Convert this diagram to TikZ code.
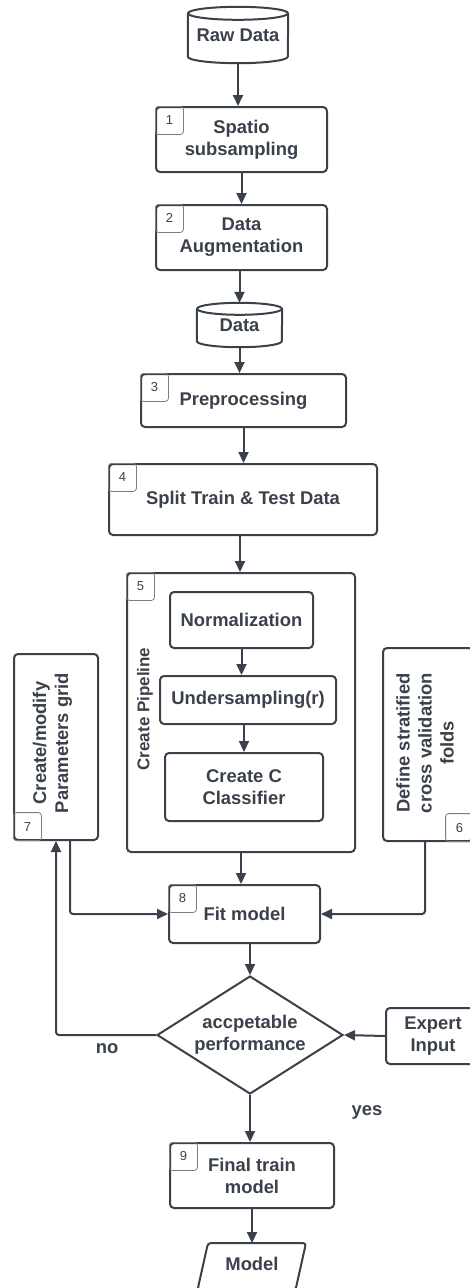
\documentclass[tikz,border=0pt]{standalone}
\usepackage{fontspec}
\setmainfont{Liberation Sans}
\usetikzlibrary{arrows.meta,shapes.geometric,calc}
\definecolor{ink}{HTML}{3A414A}
\definecolor{taggray}{HTML}{7A7F86}
\tikzset{
  base/.style={font=\fontsize{18.4}{22}\selectfont\bfseries, text=ink, align=center},
  stepbox/.style={base, draw=ink, line width=2pt, rounded corners=4pt, inner sep=0pt},
  tag/.style={draw=taggray, line width=0.8pt, rounded corners=3pt, minimum width=28pt,
    minimum height=28pt, inner sep=0pt, font=\fontsize{13}{15}\selectfont, text=ink},
  link/.style={draw=ink, line width=2pt, rounded corners=3pt},
  arr/.style={link, -{Triangle[length=11pt,width=10pt]}},
  outline/.style={draw=ink, line width=2pt, line join=round},
}
\begin{document}
\begin{tikzpicture}[x=1pt,y=-1pt]
\useasboundingbox (0,0) rectangle (470,1288);
\clip (0,0) rectangle (470,1288);

% raw data store
\node[base, minimum width=100pt, minimum height=56pt, inner sep=0pt] (raw) at (238,35) {\raisebox{-4pt}{Raw Data}};
\draw[outline] ($(raw.north west)+(0,6.5)$) -- ($(raw.south west)+(0,-6.5)$)
  arc[start angle=180,end angle=360,x radius=50pt,y radius=6.5pt] -- ($(raw.north east)+(0,6.5)$);
\draw[outline] ($(raw.north)+(0,6.5)$) ellipse[x radius=50pt,y radius=6.5pt];

% step 1
\node[stepbox, minimum width=171pt, minimum height=65pt] (s1) at (241.5,139.5) {Spatio\\subsampling};
\node[tag, anchor=north west] (t1) at (s1.north west) {1};

% step 2
\node[stepbox, minimum width=171pt, minimum height=65pt] (s2) at (241.5,237.5) {Data\\Augmentation};
\node[tag, anchor=north west] (t2) at (s2.north west) {2};

% data store
\node[base, minimum width=85pt, minimum height=44pt, inner sep=0pt] (dat) at (239.5,325) {\raisebox{-3pt}{Data}};
\draw[outline] ($(dat.north west)+(0,6)$) -- ($(dat.south west)+(0,-6)$)
  arc[start angle=180,end angle=360,x radius=42.5pt,y radius=6pt] -- ($(dat.north east)+(0,6)$);
\draw[outline] ($(dat.north)+(0,6)$) ellipse[x radius=42.5pt,y radius=6pt];

% step 3
\node[stepbox, minimum width=205pt, minimum height=53pt] (s3) at (243.5,400.5) {\raisebox{3pt}{Preprocessing}};
\node[tag, anchor=north west] (t3) at (s3.north west) {3};

% step 4
\node[stepbox, minimum width=268pt, minimum height=71pt] (s4) at (243,499.5) {\raisebox{2pt}{Split Train \& Test Data}};
\node[tag, anchor=north west] (t4) at (s4.north west) {4};

% step 5: pipeline
\node[stepbox, minimum width=228pt, minimum height=279pt] (pipe) at (241,712.5) {};
\node[tag, anchor=north west] (t5) at (pipe.north west) {5};
\node[base, rotate=90, font=\fontsize{17}{20}\selectfont\bfseries] (pipetxt) at (145,709) {Create Pipeline};
\node[stepbox, minimum width=143pt, minimum height=56pt] (norm) at (241.5,620) {Normalization};
\node[stepbox, minimum width=176pt, minimum height=48pt] (under) at (248,700) {Undersampling(r)};
\node[stepbox, minimum width=158pt, minimum height=68pt] (clf) at (244,787) {Create C\\Classifier};

% step 7: parameter grid
\node[stepbox, minimum width=84pt, minimum height=186pt] (grid) at (56,747) {};
\node[tag, anchor=south west] (t7) at (grid.south west) {7};
\node[base, rotate=90] (gridtxt) at (52.5,743) {Create/modify\\Parameters grid};

% step 6: cross validation folds
\node[stepbox, minimum width=90pt, minimum height=193pt] (cv) at (428,744.5) {};
\node[tag, anchor=south east] (t6) at (cv.south east) {6};
\node[base, rotate=90] (cvtxt) at (425,743) {Define stratified\\cross validation\\folds};

% step 8
\node[stepbox, minimum width=151pt, minimum height=58pt] (fit) at (244.5,914) {Fit model};
\node[tag, anchor=north west] (t8) at (fit.north west) {8};

% decision
\node[base, diamond, draw=ink, line width=2pt, minimum width=186pt, minimum height=118pt,
  inner sep=0pt, aspect=1.576] (dec) at (250,1035) {accpetable\\performance};
\node[stepbox, minimum width=94pt, minimum height=56pt] (exp) at (433,1036) {Expert\\Input};
\node[base] (no) at (107,1049) {no};
\node[base] (yes) at (367,1112) {yes};

% step 9
\node[stepbox, minimum width=164pt, minimum height=65pt] (fin) at (252,1175.5) {Final train\\model};
\node[tag, anchor=north west] (t9) at (fin.north west) {9};

% output model
\node[base] (model) at (252,1264) {Model};
\coordinate (modeltop) at (252,1243);
\draw[outline, rounded corners=3pt] (208,1243) -- (306,1243) -- (295.5,1290) -- (197.5,1290) -- cycle;

% connectors
\draw[arr] (raw.south) -- (raw.south |- s1.north);
\draw[arr] (s1.south) -- (s2.north);
\draw[arr] (dat.north |- s2.south) -- (dat.north);
\draw[arr] (dat.south) -- (dat.south |- s3.north);
\draw[arr] (s3.south) -- (s3.south |- s4.north);
\draw[arr] ([xshift=-3pt]s4.south) -- ([xshift=-3pt]s4.south |- pipe.north);
\draw[arr] (norm.south) -- (norm.south |- under.north);
\draw[arr] (clf.north |- under.south) -- (clf.north);
\draw[arr] (pipe.south) -- (pipe.south |- fit.north);
\draw[arr] ([xshift=14pt]grid.south) |- (fit.west);
\draw[arr] ([xshift=-3pt]cv.south) |- (fit.east);
\draw[arr] (dec.north |- fit.south) -- (dec.north);
\draw[arr] (dec.west) -| (grid.south);
\draw[arr] (exp.west) -- (dec.east);
\draw[arr] (dec.south) -- (dec.south |- fin.north);
\draw[arr] (fin.south) -- (modeltop);
\end{tikzpicture}
\end{document}
